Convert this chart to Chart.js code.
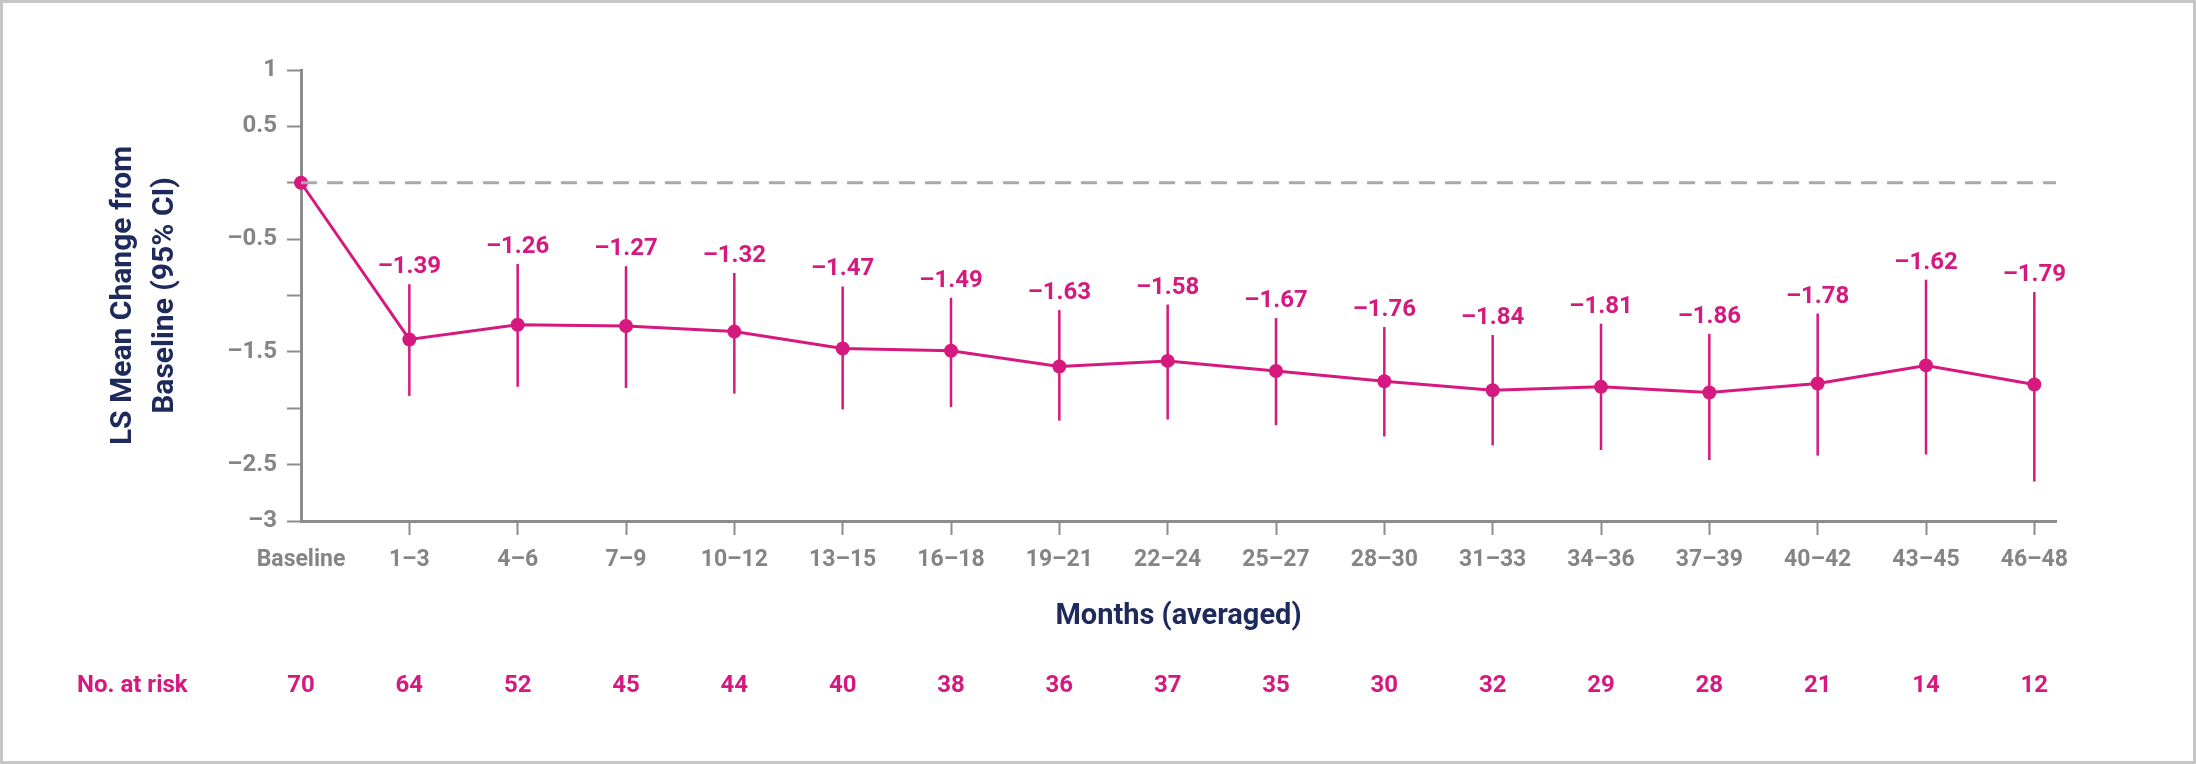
<!DOCTYPE html>
<html>
<head>
<meta charset="utf-8">
<script src="https://cdn.jsdelivr.net/npm/chart.js@4.4.1/dist/chart.umd.min.js"></script>
<style>
  html, body { margin: 0; padding: 0; background: #fff; }
  #frame { width: 2196px; height: 764px; box-sizing: border-box; border: 3px solid #c6c6c6; background: #fff; }
  canvas { display: block; }
</style>
</head>
<body>
<div id="frame"><canvas id="chart" width="2190" height="758"></canvas></div>
<script>
const categories = ['Baseline', '1–3', '4–6', '7–9', '10–12', '13–15', '16–18', '19–21', '22–24',
    '25–27', '28–30', '31–33', '34–36', '37–39', '40–42', '43–45', '46–48'];
const meanChange = [0, -1.39, -1.26, -1.27, -1.32, -1.47, -1.49, -1.63, -1.58,
    -1.67, -1.76, -1.84, -1.81, -1.86, -1.78, -1.62, -1.79];
const ciUpper = [null, -0.90, -0.72, -0.74, -0.80, -0.92, -1.02, -1.13, -1.08,
    -1.20, -1.28, -1.35, -1.25, -1.34, -1.16, -0.86, -0.97];
const ciLower = [null, -1.89, -1.81, -1.82, -1.87, -2.01, -1.99, -2.11, -2.10,
    -2.15, -2.25, -2.33, -2.37, -2.46, -2.42, -2.41, -2.65];
const atRisk = [70, 64, 52, 45, 44, 40, 38, 36, 37, 35, 30, 32, 29, 28, 21, 14, 12];
const yTicks = [-3, -2.5, -2, -1.5, -1, -0.5, 0, 0.5, 1];
const yTickLabels = ['–3', '–2.5', '', '–1.5', '', '–0.5', '', '0.5', '1'];

const pink = '#d6197f';
const navy = '#1f2a5c';
const grey = '#858585';
const font = 'Roboto';

function fmt(v) {
    return v < 0 ? '–' + Math.abs(v).toFixed(2) : v.toFixed(2);
}

// whiskers for the 95% CI, drawn under the points
const errorBars = {
    id: 'errorBars',
    beforeDatasetsDraw(chart) {
        const {ctx, scales: {x, y}} = chart;
        ctx.save();
        ctx.strokeStyle = pink;
        ctx.lineWidth = 2.5;
        for (let i = 0; i < categories.length; i++) {
            if (ciUpper[i] === null) continue;
            const px = x.getPixelForValue(i);
            ctx.beginPath();
            ctx.moveTo(px, y.getPixelForValue(ciUpper[i]));
            ctx.lineTo(px, y.getPixelForValue(ciLower[i]));
            ctx.stroke();
        }
        ctx.restore();
    },
    afterDatasetsDraw(chart) {
        const {ctx, scales: {x, y}} = chart;
        ctx.save();
        ctx.fillStyle = pink;
        ctx.font = `bold 24px ${font}`;
        ctx.textAlign = 'center';
        ctx.textBaseline = 'alphabetic';
        for (let i = 1; i < categories.length; i++) {
            ctx.fillText(fmt(meanChange[i]), x.getPixelForValue(i), y.getPixelForValue(ciUpper[i]) - 11);
        }
        ctx.restore();
    }
};

// "No. at risk" row under the axis
const riskRow = {
    id: 'riskRow',
    afterDraw(chart) {
        const {ctx, scales: {x}} = chart;
        const rowY = 683;
        ctx.save();
        ctx.fillStyle = pink;
        ctx.font = `bold 24px ${font}`;
        ctx.textBaseline = 'middle';
        ctx.textAlign = 'left';
        ctx.fillText('No. at risk', 74, rowY);
        ctx.textAlign = 'center';
        atRisk.forEach((n, i) => ctx.fillText(String(n), x.getPixelForValue(i), rowY));
        ctx.restore();
    }
};

new Chart(document.getElementById('chart'), {
    type: 'line',
    data: {
        datasets: [{
            data: [{x: 0, y: 0}, {x: 16.2, y: 0}],
            borderColor: '#a9a9a9',
            borderWidth: 3,
            borderDash: [16, 10],
            pointRadius: 0,
            clip: false
        }, {
            data: meanChange.map((v, i) => ({x: i, y: v})),
            borderColor: pink,
            backgroundColor: pink,
            borderWidth: 3,
            pointRadius: 7,
            pointBorderWidth: 0,
            tension: 0,
            clip: false
        }]
    },
    options: {
        responsive: false,
        devicePixelRatio: 1,
        animation: false,
        layout: {padding: {left: 0, top: 67, right: 137, bottom: 0}},
        plugins: {
            legend: {display: false},
            tooltip: {enabled: false}
        },
        scales: {
            x: {
                type: 'linear',
                min: 0,
                max: 16.2,
                afterBuildTicks: (axis) => { axis.ticks = categories.map((c, i) => ({value: i})); },
                afterFit: (axis) => { axis.height = 240; },
                ticks: {
                    callback: (v, i) => categories[i],
                    color: grey,
                    font: {family: font, size: 23, weight: 'bold'},
                    padding: 11,
                    maxRotation: 0,
                    autoSkip: false
                },
                grid: {
                    drawOnChartArea: false,
                    tickLength: 14,
                    tickWidth: 2,
                    tickColor: (c) => (c.tick && c.tick.value === 0) ? 'rgba(0,0,0,0)' : '#8c8c8c'
                },
                border: {color: '#8c8c8c', width: 3},
                title: {
                    display: true,
                    text: 'Months (averaged)',
                    color: navy,
                    font: {family: font, size: 29, weight: 'bold'},
                    padding: {top: 0, bottom: 127}
                }
            },
            y: {
                min: -3,
                max: 1,
                afterBuildTicks: (axis) => { axis.ticks = yTicks.map(v => ({value: v})); },
                afterFit: (axis) => { axis.width = 298; },
                ticks: {
                    callback: (v, i) => yTickLabels[i],
                    color: grey,
                    font: {family: font, size: 24, weight: 'bold'},
                    padding: 10
                },
                grid: {
                    drawOnChartArea: false,
                    tickLength: 14,
                    tickWidth: 2,
                    tickColor: '#8c8c8c'
                },
                border: {color: '#8c8c8c', width: 3},
                title: {
                    display: true,
                    text: ['LS Mean Change from', 'Baseline (95% CI)'],
                    color: navy,
                    font: {family: font, size: 30, weight: 'bold', lineHeight: 1.4},
                    padding: {top: 99, bottom: 0}
                }
            }
        }
    },
    plugins: [errorBars, riskRow]
});
</script>
</body>
</html>
